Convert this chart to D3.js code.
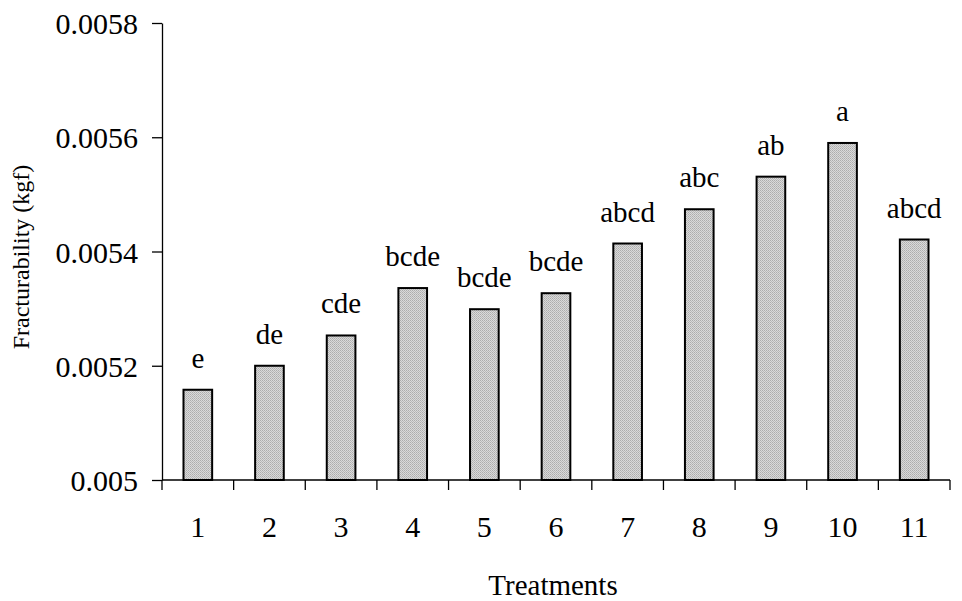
<!DOCTYPE html>
<html>
<head>
<meta charset="utf-8">
<script src="https://cdn.jsdelivr.net/npm/d3@7"></script>
<style>
  html, body { margin: 0; padding: 0; background: #fff; }
  svg { display: block; }
  svg text { font-family: "Liberation Serif", "DejaVu Serif", serif !important; fill: #000; }
</style>
</head>
<body>
<svg id="chart" width="962" height="601"></svg>
<script>
// Fracturability by treatment, with significance letters
const treatments = ["1", "2", "3", "4", "5", "6", "7", "8", "9", "10", "11"];
const fracturability = [0.005158, 0.0052, 0.005253, 0.005336, 0.005299, 0.005327,
                        0.005414, 0.005474, 0.005531, 0.00559, 0.005421];
const groupLetters = ["e", "de", "cde", "bcde", "bcde", "bcde", "abcd", "abc", "ab", "a", "abcd"];
const yTicks = [0.005, 0.0052, 0.0054, 0.0056, 0.0058];
const yTickLabels = ["0.005", "0.0052", "0.0054", "0.0056", "0.0058"];

const svg = d3.select("#chart");
const plotLeft = 162, plotRight = 950, plotTop = 23, plotBottom = 480;

const x = d3.scaleBand().domain(treatments).range([plotLeft, plotRight]).paddingInner(0.6).paddingOuter(0.3);
const y = d3.scaleLinear().domain([0.005, 0.0058]).range([plotBottom, plotTop]);

// Stippled grey fill for the bars
const defs = svg.append("defs");
const pat = defs.append("pattern")
  .attr("id", "stipple").attr("patternUnits", "userSpaceOnUse")
  .attr("width", 2).attr("height", 2);
pat.append("rect").attr("width", 2).attr("height", 2).attr("fill", "#dadada");
pat.append("rect").attr("width", 1).attr("height", 1).attr("fill", "#adadad");
pat.append("rect").attr("x", 1).attr("y", 1).attr("width", 1).attr("height", 1).attr("fill", "#bababa");

// Bars
svg.append("g").selectAll("rect")
  .data(treatments)
  .join("rect")
  .attr("x", d => x(d))
  .attr("y", (d, i) => y(fracturability[i]))
  .attr("width", x.bandwidth())
  .attr("height", (d, i) => y(0.005) - y(fracturability[i]))
  .attr("fill", "url(#stipple)")
  .attr("stroke", "#000")
  .attr("stroke-width", 2);

// Significance letters above bars
svg.append("g").selectAll("text")
  .data(treatments)
  .join("text")
  .attr("x", d => x(d) + x.bandwidth() / 2)
  .attr("y", (d, i) => y(fracturability[i]) - 22)
  .attr("text-anchor", "middle")
  .attr("font-size", 29)
  .text((d, i) => groupLetters[i]);

// Y axis
const yAxis = d3.axisLeft(y)
  .tickValues(yTicks)
  .tickFormat((d, i) => yTickLabels[i])
  .tickSize(10).tickSizeOuter(0).tickPadding(14);
const gy = svg.append("g").attr("transform", `translate(${plotLeft},0)`).call(yAxis);
gy.select(".domain").attr("stroke", "#000").attr("stroke-width", 1.3);
gy.selectAll(".tick line").attr("stroke", "#000").attr("stroke-width", 1.3);
gy.selectAll(".tick text").attr("font-size", 30).attr("dy", "0.35em");

// X axis: line with boundary ticks between categories
const step = x.step();
const boundaries = d3.range(treatments.length + 1).map(i => plotLeft + i * step);
const gx = svg.append("g");
gx.append("line")
  .attr("x1", plotLeft).attr("x2", plotRight)
  .attr("y1", plotBottom).attr("y2", plotBottom)
  .attr("stroke", "#000").attr("stroke-width", 1.3);
gx.selectAll("line.bt")
  .data(boundaries)
  .join("line")
  .attr("class", "bt")
  .attr("x1", d => d).attr("x2", d => d)
  .attr("y1", plotBottom).attr("y2", plotBottom + 10)
  .attr("stroke", "#000").attr("stroke-width", 1.3);
gx.selectAll("text")
  .data(treatments)
  .join("text")
  .attr("x", d => x(d) + x.bandwidth() / 2)
  .attr("y", 537)
  .attr("text-anchor", "middle")
  .attr("font-size", 30)
  .text(d => d);

// Axis titles
svg.append("text")
  .attr("x", 553).attr("y", 595)
  .attr("text-anchor", "middle")
  .attr("font-size", 29)
  .text("Treatments");

svg.append("text")
  .attr("transform", "translate(29,257) rotate(-90)")
  .attr("text-anchor", "middle")
  .attr("font-size", 24)
  .text("Fracturability (kgf)");
</script>
</body>
</html>
